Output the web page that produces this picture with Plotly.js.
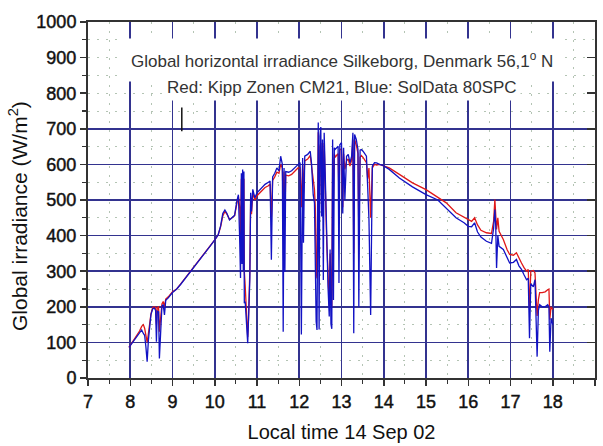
<!DOCTYPE html>
<html>
<head>
<meta charset="utf-8">
<script src="https://cdn.plot.ly/plotly-3.0.1.min.js"></script>
<style>
html,body{margin:0;padding:0;background:#fff;}
#chart{width:603px;height:446px;}
#chart .xtick text, #chart .ytick text{stroke:#111;stroke-width:0.45px;}
</style>
</head>
<body>
<div id="chart"></div>
<script>
// Local time (hours)
var timeH = [7.97,8.05,8.14,8.22,8.27,8.31,8.34,8.37,8.40,8.43,8.46,8.49,8.53,8.57,8.60,8.62,8.64,8.67,8.69,8.72,8.75,8.78,8.81,8.84,8.90,
9.00,9.10,9.20,9.30,9.40,9.50,9.60,9.70,9.80,9.90,10.00,10.08,10.14,10.19,10.24,10.29,10.35,10.41,10.47,10.52,10.56,10.59,10.61,10.63,10.645,10.66,10.675,10.69,10.70,10.72,10.75,10.78,10.80,10.83,10.85,10.87,10.90,10.95,
11.00,11.10,11.19,11.27,11.31,11.34,11.37,11.42,11.47,11.52,11.56,11.60,11.62,11.64,11.66,11.68,11.75,11.82,11.90,11.97,
12.02,12.05,12.08,12.10,12.13,12.20,12.26,12.29,12.33,12.36,12.38,12.40,12.42,12.435,12.45,12.47,12.49,12.51,12.53,12.55,12.57,12.59,12.62,12.65,12.68,12.71,12.73,12.75,12.77,12.79,12.81,12.83,12.85,12.88,12.92,12.94,12.96,
13.00,13.03,13.05,13.08,13.12,13.16,13.20,13.24,13.27,13.29,13.31,13.35,13.39,13.41,13.44,13.47,13.51,13.56,13.59,13.62,13.65,13.69,13.71,13.73,13.78,13.83,13.90,13.98,
14.13,14.37,14.68,15.00,15.28,15.48,15.71,15.90,16.00,16.08,16.15,16.22,16.30,16.43,16.55,16.60,16.63,16.65,16.67,16.70,16.73,16.83,16.92,16.98,
17.07,17.14,17.20,17.26,17.32,17.38,17.42,17.45,17.48,17.54,17.58,17.61,17.63,17.66,17.69,17.75,17.82,17.88,17.91,17.93,17.96,18.00];

// Red: Kipp Zonen CM21 (W/m2)
var kippZonen = [86,100,117,132,145,150,140,120,100,125,150,180,198,200,198,150,198,200,130,180,208,215,200,222,228,
242,250,265,280,296,312,328,343,358,372,388,402,425,455,468,460,445,450,456,488,510,480,380,560,400,575,420,560,300,260,180,115,170,300,500,460,520,500,
512,525,535,540,545,450,555,565,578,575,600,590,470,580,450,570,568,572,582,590,
590,480,600,520,610,615,625,600,560,530,480,300,280,650,690,400,650,660,500,640,500,660,500,380,300,200,350,270,200,620,500,630,620,625,630,500,640,
645,480,630,586,610,615,595,612,670,350,670,655,630,400,620,625,620,610,605,560,590,450,550,590,600,598,600,596,
590,572,548,529,506,492,464,452,445,440,450,430,415,408,406,440,501,470,417,450,412,389,360,347,
345,352,335,323,310,300,305,192,300,302,295,200,174,220,240,240,242,248,250,164,200,192];

// Blue: SolData 80SPC (W/m2)
var solData = [86,99,116,128,135,125,120,88,46,107,140,178,194,197,190,102,188,186,55,150,202,206,177,218,225,
240,250,264,279,295,312,327,342,357,372,388,402,428,462,472,462,444,452,457,495,515,390,281,575,320,586,300,580,210,215,168,98,168,276,520,468,530,506,
520,532,544,550,553,332,565,575,590,582,623,600,130,590,298,580,578,582,592,600,
605,122,618,380,623,628,637,604,515,492,300,159,135,698,718,136,679,705,454,670,275,689,501,408,258,173,361,152,138,670,219,647,642,645,651,267,655,
661,462,647,501,623,628,604,623,689,126,684,670,642,200,640,642,637,628,623,536,445,177,398,595,605,604,600,597,
586,562,537,515,500,478,450,436,426,425,436,410,396,384,378,420,473,430,309,400,370,361,335,323,
325,333,315,305,290,276,280,112,265,256,276,110,60,190,206,200,200,206,200,74,168,150];

// small vertical cursor mark seen in the original
var cursorX = [9.22, 9.22];
var cursorY = [693, 760];

var yTickVals = [0,100,200,300,400,500,600,700,800,900,1000];
var yGridVals = [100,200,300,400,500,600,700];

var titleLine1 = 'Global horizontal irradiance Silkeborg, Denmark 56,1<sup>o</sup> N';
var titleLine2 = 'Red: Kipp Zonen CM21, Blue: SolData 80SPC';
var yTitle = 'Global irradiance (W/m<sup>2</sup>)';
var xTitle = 'Local time 14 Sep 02';

var FONT = 'Liberation Sans, Arial, sans-serif';
var GRID = '#33338f';
var MINOR = '#b4c4b4';

var traces = [
  {x: timeH, y: kippZonen, type: 'scatter', mode: 'lines', line: {color: '#e01818', width: 1.3}, hoverinfo: 'skip'},
  {x: timeH, y: solData, type: 'scatter', mode: 'lines', line: {color: '#1212c4', width: 1.3}, hoverinfo: 'skip'},
  {x: cursorX, y: cursorY, type: 'scatter', mode: 'lines', line: {color: '#111', width: 1.5}, yaxis: 'y2', hoverinfo: 'skip'},
  {x: [], y: [], type: 'scatter', mode: 'lines', yaxis: 'y3', hoverinfo: 'skip'}
];

var layout = {
  width: 603, height: 446,
  margin: {l: 88, r: 8, t: 22, b: 68},
  paper_bgcolor: '#fff', plot_bgcolor: '#fff',
  showlegend: false,
  font: {family: FONT, color: '#111'},
  xaxis: {
    range: [7, 19], tick0: 7, dtick: 1, autorange: false,
    showgrid: true, gridcolor: GRID, gridwidth: 1.7,
    showline: true, linecolor: '#333', linewidth: 2, mirror: true,
    ticks: 'outside', ticklen: 6, tickwidth: 1.5, tickcolor: '#333',
    zeroline: false,
    tickfont: {family: FONT, size: 18, color: '#111'},
    minor: {dtick: 0.5, ticks: 'outside', ticklen: 4, tickwidth: 1.2, tickcolor: '#333',
            showgrid: true, gridcolor: MINOR, gridwidth: 1, griddash: '2px,7px'},
    title: {text: xTitle, font: {family: FONT, size: 20, color: '#111'}, standoff: 14}
  },
  yaxis: {
    range: [0, 1000], tickvals: yTickVals, autorange: false,
    showgrid: false,
    showline: true, linecolor: '#333', linewidth: 2, mirror: true,
    ticks: 'outside', ticklen: 6, tickwidth: 1.5, tickcolor: '#333',
    zeroline: false,
    tickfont: {family: FONT, size: 18, color: '#111'},
    minor: {dtick: 50, ticks: 'outside', ticklen: 4, tickwidth: 1.2, tickcolor: '#333',
            showgrid: true, gridcolor: MINOR, gridwidth: 1, griddash: '2px,7px'}
  },
  yaxis2: {
    overlaying: 'y', range: [0, 1000], autorange: false, tickvals: yGridVals,
    showgrid: true, gridcolor: GRID, gridwidth: 1.7,
    showticklabels: false, ticks: '', showline: false, zeroline: false
  },
  yaxis3: {
    overlaying: 'y', side: 'right', range: [0, 1000], autorange: false, tickvals: yTickVals,
    showgrid: false, showticklabels: false, ticks: 'inside', ticklen: 8, tickwidth: 1.5, tickcolor: '#333',
    showline: false, zeroline: false
  },
  annotations: [
    {xref: 'paper', yref: 'y', x: 0.5, y: 893, text: titleLine1, showarrow: false,
     xanchor: 'center', yanchor: 'middle', bgcolor: '#fff', borderpad: 10,
     font: {family: FONT, size: 17, color: '#333'}},
    {xref: 'paper', yref: 'y', x: 0.5, y: 816, text: titleLine2, showarrow: false,
     xanchor: 'center', yanchor: 'middle', bgcolor: '#fff', borderpad: 3,
     font: {family: FONT, size: 17, color: '#333'}},
    {xref: 'paper', yref: 'paper', x: -0.138, y: 0.455, text: yTitle, showarrow: false, textangle: -90,
     xanchor: 'center', yanchor: 'middle', font: {family: FONT, size: 21, color: '#111'}}
  ]
};

Plotly.newPlot('chart', traces, layout, {staticPlot: true, displayModeBar: false});
</script>
</body>
</html>
